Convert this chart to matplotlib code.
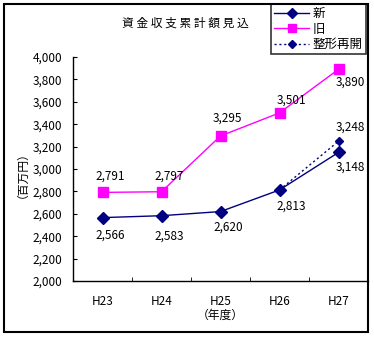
import matplotlib
matplotlib.use("Agg")
import matplotlib.pyplot as plt
from matplotlib.patches import Rectangle
from matplotlib.ticker import FuncFormatter, MultipleLocator
import numpy as np

plt.rcParams['font.family'] = ['Noto Sans CJK JP', 'DejaVu Sans']

# 年度と各系列の値（百万円）
years = ["H23", "H24", "H25", "H26", "H27"]
new_vals = [2566, 2583, 2620, 2813, 3148]
old_vals = [2791, 2797, 3295, 3501, 3890]
reopen_vals = [None, None, None, 2813, 3248]

# ラベルのずらし量（ピクセル）
new_off = [(8, -18), (8, -20), (8, -16), (12, -16), (12, -15)]
old_off = [(8, 16), (8, 16), (7, 18), (12, 13), (12, -13)]

fig = plt.figure(figsize=(3.74, 3.38), dpi=100)
ax = fig.add_axes([73 / 374, 57 / 338, 295 / 374, 224 / 338])

x = np.arange(len(years))
navy = "#000080"
pink = "#FF00FF"

ax.plot(x, new_vals, color=navy, lw=1, marker="D", ms=6.5, label="新", zorder=4)
ax.plot(x, old_vals, color=pink, lw=1, marker="s", ms=7, label="旧", zorder=3)
rx = [i for i, v in enumerate(reopen_vals) if v is not None]
ry = [v for v in reopen_vals if v is not None]
ax.plot(rx, ry, color=navy, lw=1, ls=(0, (1.5, 2)), marker="D", ms=4,
        label="整形再開", zorder=3)

fs = 8.5
for i, v in enumerate(new_vals):
    ax.annotate(f"{v:,}", (x[i], v), xytext=new_off[i], textcoords="offset pixels",
                ha="center", va="center", fontsize=fs)
for i, v in enumerate(old_vals):
    ax.annotate(f"{v:,}", (x[i], v), xytext=old_off[i], textcoords="offset pixels",
                ha="center", va="center", fontsize=fs)
ax.annotate(f"{ry[-1]:,}", (rx[-1], ry[-1]), xytext=(12, 14), textcoords="offset pixels",
            ha="center", va="center", fontsize=fs)

ax.set_xlim(-0.5, len(years) - 0.5)
ax.set_ylim(2000, 4000)
ax.yaxis.set_major_locator(MultipleLocator(200))
ax.yaxis.set_major_formatter(FuncFormatter(lambda v, p: f"{int(v):,}"))
ax.set_xticks(x)
ax.set_xticklabels(years)
ax.set_xticks(np.arange(0.5, len(years) - 0.5), minor=True)
ax.tick_params(axis="x", which="major", length=0, labelsize=fs, pad=10)
ax.tick_params(axis="x", which="minor", direction="in", length=3)
ax.tick_params(axis="y", direction="in", length=3, labelsize=fs, pad=8)
for s in ["top", "right"]:
    ax.spines[s].set_visible(False)
for s in ["left", "bottom"]:
    ax.spines[s].set_linewidth(1)

ax.set_xlabel("（年度）", fontsize=fs, labelpad=1)
ax.set_ylabel("（百万円）", fontsize=fs, labelpad=7)

fig.text(185 / 374, 1 - 23 / 338, "資 金 収 支 累 計 額 見 込", ha="center", va="center",
         fontsize=8.5)

leg = ax.legend(loc="upper right", bbox_to_anchor=(366 / 374, 1 - 4 / 338),
                bbox_transform=fig.transFigure, fontsize=9, frameon=True,
                fancybox=False, edgecolor="black", borderpad=0.25,
                labelspacing=0.2, handlelength=2.8, handletextpad=0.3,
                borderaxespad=0)
leg.get_frame().set_linewidth(1.2)
for h, m in zip(leg.legend_handles, [5, 6, 4]):
    h.set_markersize(m)

# 外枠
fig.patches.append(Rectangle((4 / 374, 6 / 338), 364 / 374, 328 / 338,
                             transform=fig.transFigure, fill=False,
                             edgecolor="black", lw=1.5))

fig.savefig("out.png", dpi=100)
